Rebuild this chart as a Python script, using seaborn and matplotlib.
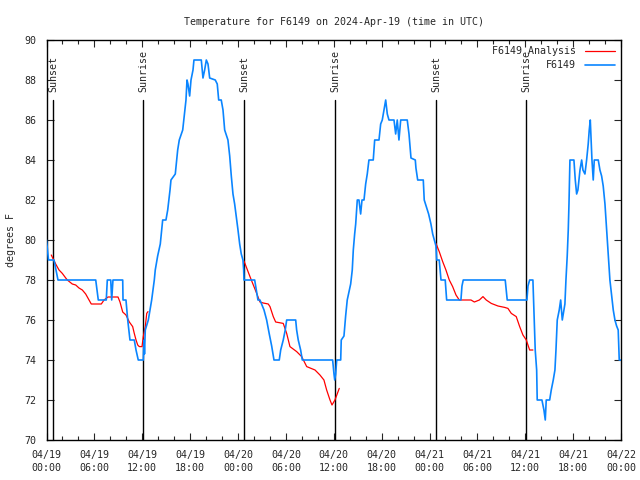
import matplotlib
matplotlib.use("Agg")
import matplotlib.pyplot as plt
from matplotlib.lines import Line2D
from matplotlib.ticker import MultipleLocator
import seaborn as sns
import pandas as pd

# ---------------- data (hours since 2024-04-19 00:00 UTC) ----------------
obs_hours = [0.0, 0.13, 0.25, 0.94, 1.19, 1.44, 6.17, 6.49, 7.49, 7.62, 8.05, 8.17, 8.33,
             9.55, 9.59, 9.96, 10.18, 10.46, 11.0, 11.22, 11.5, 12.13, 12.22, 12.28, 12.38,
             12.76, 13.18, 13.51, 13.63, 13.93, 14.26, 14.56, 14.97, 15.19, 15.48, 15.6,
             16.14, 16.44, 16.64, 17.07, 17.48, 17.61, 17.73, 17.94, 18.11, 18.36, 18.48,
             19.4, 19.61, 19.82, 20.03, 20.24, 20.45, 21.15, 21.4, 21.58, 21.9, 22.12, 22.33,
             22.74, 22.96, 23.16, 23.37, 23.58, 23.78, 24.0, 24.21, 24.41, 24.62, 24.71, 24.75,
             26.09, 26.29, 26.5, 26.75, 27.26, 27.59, 27.92, 28.22, 28.51, 29.17, 29.35, 29.67,
             29.92, 30.1, 31.23, 31.35, 31.55, 31.85, 32.06, 35.86, 36.03, 36.12, 36.24, 36.37,
             36.87, 36.94, 37.28, 37.49, 37.69, 38.12, 38.32, 38.45, 38.62, 38.75, 38.95, 39.16,
             39.37, 39.54, 39.79, 40.0, 40.2, 40.41, 40.95, 41.13, 41.67, 41.88, 42.08, 42.29,
             42.51, 42.71, 42.92, 43.55, 43.76, 43.96, 44.17, 44.39, 45.21, 45.43, 45.68, 46.22,
             46.3, 46.52, 47.22, 47.34, 47.89, 48.18, 48.4, 48.6, 48.81, 48.9, 49.22, 49.44,
             49.97, 50.15, 51.94, 52.07, 52.23, 57.49, 57.74, 60.21, 60.34, 60.55, 60.96, 61.09,
             61.25, 61.43, 61.5, 62.09, 62.34, 62.51, 62.63, 63.06, 63.26, 63.51, 63.72, 63.85,
             64.01, 64.26, 64.44, 64.64, 64.85, 64.97, 65.1, 65.26, 65.39, 65.48, 65.6, 66.1,
             66.27, 66.44, 66.6, 66.86, 67.07, 67.23, 67.48, 67.69, 67.89, 68.02, 68.15, 68.36,
             68.52, 68.65, 69.15, 69.36, 69.57, 69.77, 69.99, 70.2, 70.4, 70.61, 70.83, 71.03,
             71.24, 71.45, 71.65, 71.78, 72.0]
obs_temps = [80, 79.5, 79, 79, 78.5, 78, 78, 77, 77, 78, 78, 77, 78,
             78, 77, 77, 76, 75, 75, 74.5, 74, 74, 75, 74.3, 75.5,
             76, 77, 78, 78.5, 79.2, 79.8, 81, 81, 81.5, 82.5, 83,
             83.3, 84.5, 85, 85.5, 87, 88, 87.8, 87.2, 88, 88.5, 89,
             89, 88.1, 88.5, 89, 88.8, 88.1, 88, 87.8, 87, 87, 86.5, 85.5,
             85, 84.2, 83.2, 82.3, 81.8, 81.2, 80.5, 79.8, 79.3, 79, 78.5, 78,
             78, 77.5, 77, 77, 76.5, 76, 75.3, 74.7, 74, 74, 74.5, 75,
             75.5, 76, 76, 75.5, 75, 74.5, 74, 74, 73.3, 73, 73.3, 74,
             74, 75, 75.2, 76.2, 77, 77.8, 78.5, 79.5, 80.3, 80.8, 82, 82,
             81.3, 82, 82, 82.8, 83.3, 84, 84, 85, 85, 85.8, 86, 86.5,
             87, 86.3, 86, 86, 85.3, 86, 85, 86, 86, 85.3, 84.1, 84,
             83.6, 83, 83, 82, 81.3, 80.8, 80.3, 80, 79.7, 79, 79, 78,
             78, 77, 77, 77.7, 78, 78, 77, 77, 77.7, 78, 78, 76.5,
             74.5, 73.5, 72, 72, 71.5, 71, 72, 72, 72.5, 73, 73.5, 74.5,
             76, 76.5, 77, 76, 76.5, 76.8, 78, 79.2, 80.5, 81.8, 84, 84,
             83, 82.3, 82.5, 83.5, 84, 83.5, 83.3, 84, 84.8, 85.5, 86, 84,
             83, 84, 84, 83.5, 83.2, 82.7, 81.8, 80.5, 79.2, 78, 77.2, 76.5,
             76, 75.7, 75.5, 74, 74]

ana1_hours = [0.6, 1.15, 1.57, 1.98, 2.41, 2.61, 3.23, 3.66, 4.07, 4.49, 4.91, 5.33, 5.61,
              6.87, 7.21, 7.71, 8.96, 9.21, 9.55, 9.96, 10.38, 10.8, 11.0, 11.22, 11.43,
              11.63, 11.97, 12.13, 12.38, 12.56, 12.72]
ana1_temps = [79.25, 78.8, 78.5, 78.33, 78.1, 78.0, 77.8, 77.75, 77.6, 77.5, 77.3, 77.0, 76.8,
              76.8, 77.0, 77.15, 77.15, 76.9, 76.4, 76.25, 75.9, 75.67, 75.33, 75.0, 74.75,
              74.67, 74.67, 75.17, 75.67, 76.33, 76.42]
ana2_hours = [24.75, 25.5, 26.34, 26.75, 27.16, 27.79, 28.01, 28.42, 28.72, 29.67, 30.1, 30.51,
              31.35, 31.98, 32.61, 33.65, 34.27, 34.77, 35.11, 35.53, 35.78, 36.15, 36.69]
ana2_temps = [78.95, 78.17, 77.33, 76.9, 76.85, 76.8, 76.67, 76.17, 75.9, 75.83, 75.33, 74.67,
              74.42, 74.17, 73.67, 73.5, 73.25, 73.0, 72.5, 72.0, 71.75, 72.0, 72.58]
ana3_hours = [48.81, 49.22, 49.65, 50.06, 50.48, 50.9, 51.32, 51.73, 53.2, 53.62, 54.25, 54.7,
              55.11, 55.74, 56.58, 57.42, 57.83, 58.25, 58.87, 59.3, 59.71, 60.13, 60.34,
              60.55, 60.96]
ana3_temps = [79.83, 79.42, 78.92, 78.5, 78.0, 77.67, 77.25, 77.0, 77.0, 76.9, 77.0, 77.17,
              77.0, 76.83, 76.7, 76.63, 76.58, 76.33, 76.17, 75.67, 75.25, 75.0, 74.75,
              74.5, 74.5]

sun_hours = [0.85, 12.13, 24.79, 36.19, 48.85, 60.13]
sun_labels = ["Sunset", "Sunrise", "Sunset", "Sunrise", "Sunset", "Sunrise"]

tick_hours = [0, 6, 12, 18, 24, 30, 36, 42, 48, 54, 60, 66, 72]
tick_labels = ["04/19\n00:00", "04/19\n06:00", "04/19\n12:00", "04/19\n18:00",
               "04/20\n00:00", "04/20\n06:00", "04/20\n12:00", "04/20\n18:00",
               "04/21\n00:00", "04/21\n06:00", "04/21\n12:00", "04/21\n18:00",
               "04/22\n00:00"]

title = "Temperature for F6149 on 2024-Apr-19 (time in UTC)"
ylabel = "degrees F"
legend_names = ["F6149 Analysis", "F6149"]

RED = "#ff0000"
BLUE = "#0a85ff"

# ---------------- plot ----------------
sns.set_style("ticks")
plt.rcParams["font.family"] = ["DejaVu Sans Mono"]
FS = 7.2

obs = pd.DataFrame({"hour": obs_hours, "temp": obs_temps})
ana = pd.concat([
    pd.DataFrame({"hour": ana1_hours, "temp": ana1_temps, "seg": 1}),
    pd.DataFrame({"hour": ana2_hours, "temp": ana2_temps, "seg": 2}),
    pd.DataFrame({"hour": ana3_hours, "temp": ana3_temps, "seg": 3}),
])

fig = plt.figure(figsize=(6.4, 4.8), dpi=100)
ax = fig.add_axes([46.5 / 640, 1 - 440 / 480, (621 - 46.5) / 640, 400 / 480])

for h, lab in zip(sun_hours, sun_labels):
    ax.plot([h, h], [70, 87], color="black", lw=1.0, zorder=1)
    ax.text(h, 87.4, lab, rotation=90, ha="center", va="bottom", fontsize=FS)

sns.lineplot(data=ana, x="hour", y="temp", units="seg", estimator=None, sort=False,
             color=RED, lw=0.9, ax=ax, legend=False, zorder=2)
sns.lineplot(data=obs, x="hour", y="temp", estimator=None, sort=False,
             color=BLUE, lw=1.2, ax=ax, legend=False, zorder=3)

ax.set_xlim(0, 72)
ax.set_ylim(70, 90)
ax.set_xticks(tick_hours)
ax.set_xticklabels(tick_labels, fontsize=FS, linespacing=1.45)
ax.xaxis.set_minor_locator(MultipleLocator(2))
ax.yaxis.set_major_locator(MultipleLocator(2))
ax.tick_params(axis="y", labelsize=FS)
ax.tick_params(which="major", direction="in", length=5, width=0.8,
               top=True, right=True, pad=7)
ax.tick_params(which="minor", direction="in", length=3, width=0.8,
               top=True, right=True)
for s in ax.spines.values():
    s.set_linewidth(1.0)
    s.set_color("black")

ax.set_xlabel("")
ax.set_ylabel(ylabel, fontsize=FS, labelpad=6)
ax.set_title(title, fontsize=FS, pad=11)

handles = [Line2D([], [], color=RED, lw=0.9), Line2D([], [], color=BLUE, lw=1.2)]
ax.legend(handles, legend_names, loc="upper right", frameon=False, fontsize=FS,
          markerfirst=False, handlelength=3.0, labelspacing=0.4,
          borderaxespad=0.25, handletextpad=0.9)

fig.savefig("out.png", dpi=100, facecolor="white")
